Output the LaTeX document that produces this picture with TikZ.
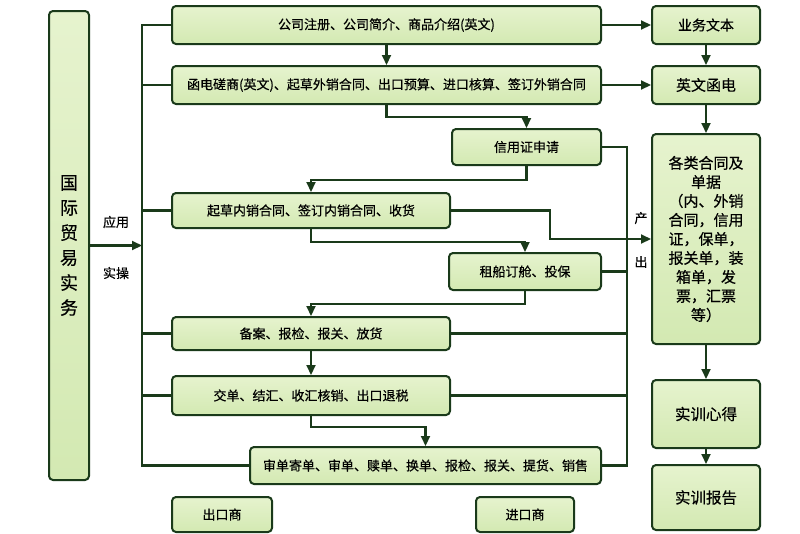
\documentclass[tikz,border=0pt]{standalone}
\usepackage{fontspec}
\setmainfont{Noto Sans CJK SC}[FakeBold=0.5]
\usetikzlibrary{arrows.meta,calc}
\definecolor{dk}{HTML}{1A3A1A}
\definecolor{gtop}{HTML}{E6F3CE}
\definecolor{gbot}{HTML}{D3E9B2}
\begin{document}
\begin{tikzpicture}[x=1pt,y=-1pt,
  box/.style={draw=dk, line width=2pt, rounded corners=4pt, top color=gtop, bottom color=gbot,
    inner sep=0pt, font=\fontsize{13}{15}\selectfont, align=center},
  ln/.style={draw=dk, line width=2.1pt},
  arr/.style={ln, -{Triangle[length=10pt,width=9pt]}},
  lbl/.style={font=\fontsize{13}{15}\selectfont, inner sep=0pt}]
\useasboundingbox (0,0) rectangle (800,533);
% left column
\node[box, minimum width=40pt, minimum height=469pt, font=\fontsize{18}{25}\selectfont] (lb) at (69,245.5) {国\\际\\贸\\易\\实\\务};
% middle boxes
\node[box, minimum width=429pt, minimum height=38pt] (b1) at (386.5,25) {公司注册、公司简介、商品介绍(英文)};
\node[box, minimum width=429pt, minimum height=38pt] (b2) at (386.5,85) {函电磋商(英文)、起草外销合同、出口预算、进口核算、签订外销合同};
\node[box, minimum width=149pt, minimum height=36pt] (xyz) at (526.5,147) {信用证申请};
\node[box, minimum width=278pt, minimum height=35pt] (qc) at (311,210.5) {起草内销合同、签订内销合同、收货};
\node[box, minimum width=152pt, minimum height=37pt] (zc) at (525,271.5) {租船订舱、投保};
\node[box, minimum width=278pt, minimum height=33pt] (ba) at (311,333.5) {备案、报检、报关、放货};
\node[box, minimum width=278pt, minimum height=39pt] (jd) at (311,395.5) {交单、结汇、收汇核销、出口退税};
\node[box, minimum width=351pt, minimum height=37pt] (sd) at (425.5,465.5) {审单寄单、审单、赎单、换单、报检、报关、提货、销售};
\node[box, minimum width=100pt, minimum height=35pt] (ck) at (222,514.5) {出口商};
\node[box, minimum width=98pt, minimum height=35pt] (jk) at (525,514.5) {进口商};
% right column
\node[box, minimum width=108pt, minimum height=38pt, font=\fontsize{14}{16}\selectfont] (yw) at (706,25) {业务文本};
\node[box, minimum width=108pt, minimum height=38pt, font=\fontsize{15}{17}\selectfont] (yd) at (706,85) {英文函电};
\node[box, minimum width=108pt, minimum height=210pt, font=\fontsize{15}{19}\selectfont] (gl) at (706,239)
  {各类合同及\\单据\\（内、外销\\合同，信用\\证，保单，\\报关单，装\\箱单，发\\票，汇票\\等）};
\node[box, minimum width=108pt, minimum height=68pt, font=\fontsize{15.5}{17}\selectfont] (sx) at (706,414) {实训心得};
\node[box, minimum width=108pt, minimum height=65pt, font=\fontsize{15.5}{17}\selectfont] (bg) at (706,497.5) {实训报告};
% labels
\node[lbl] (yy) at (116,222) {应用};
\node[lbl] (sc) at (116,273) {实操};
\node[lbl] (chan) at (641,218) {产};
\node[lbl] (chu) at (641,262) {出};
% coordinates
\coordinate (tx) at (142,0);
\coordinate (cx) at (627,0);
\coordinate (kq) at (550,239);
% trunk
\draw[arr] (lb.east) -- (lb.east -| tx);
\draw[ln] (b1.west) -- (b1.west -| tx) -- (sd.west -| tx) -- (sd.west);
\draw[ln] (b2.west) -- (b2.west -| tx);
\draw[ln] (qc.west) -- (qc.west -| tx);
\draw[ln] (ba.west) -- (ba.west -| tx);
\draw[ln] (jd.west) -- (jd.west -| tx);
% flow
\draw[arr] (b1.south) -- (b2.north);
\draw[arr] (b2.south) -- ++(0,12) -| (xyz.north);
\draw[arr] (xyz.south) -- ++(0,14) -| (qc.north);
\draw[arr] (qc.south) -- ++(0,13) -| (zc.north);
\draw[arr] (zc.south) -- ++(0,13) -| (ba.north);
\draw[arr] (ba.south) -- (jd.north);
\draw[arr] (jd.south) -- ++(0,11) -| (sd.north);
% output collector
\draw[ln] (xyz.east) -- (xyz.east -| cx) -- (sd.east -| cx) -- (sd.east);
\draw[ln] (zc.east) -- (zc.east -| cx);
\draw[ln] (ba.east) -- (ba.east -| cx);
\draw[ln] (jd.east) -- (jd.east -| cx);
\draw[arr] (qc.east) -| (kq) -- (kq -| gl.west);
% right side
\draw[arr] (b1.east) -- (yw.west);
\draw[arr] (b2.east) -- (yd.west);
\draw[arr] (yw.south) -- (yd.north);
\draw[arr] (yd.south) -- (gl.north);
\draw[arr] (gl.south) -- (sx.north);
\draw[arr] (sx.south) -- (bg.north);
\end{tikzpicture}
\end{document}
